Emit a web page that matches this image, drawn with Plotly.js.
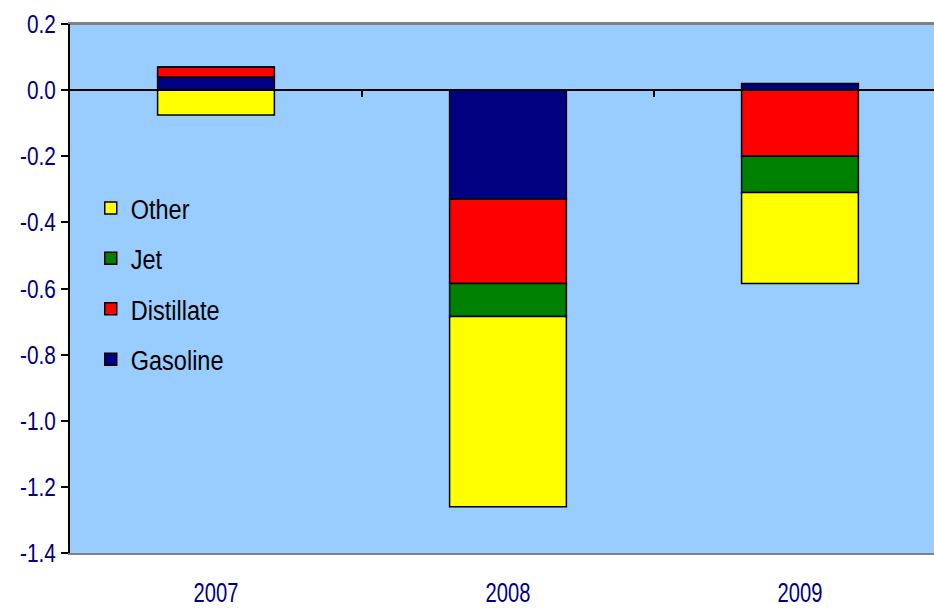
<!DOCTYPE html>
<html><head><meta charset="utf-8">
<script src="https://cdn.plot.ly/plotly-3.0.1.min.js"></script>
<style>html,body{margin:0;padding:0;background:#fff}</style>
</head><body>
<div id="chart" style="width:934px;height:608px"></div>
<script>
const years = ["2007", "2008", "2009"];
const gasoline = [0.04, -0.33, 0.02];
const distillate = [0.03, -0.255, -0.20];
const jet = [0.0, -0.10, -0.11];
const other = [-0.075, -0.575, -0.275];
const yTicks = [0.2, 0.0, -0.2, -0.4, -0.6, -0.8, -1.0, -1.2, -1.4];

const FONT = "Liberation Sans, Arial, sans-serif";
const series = [
  {name: "Gasoline", y: gasoline, color: "#000080", rank: 4},
  {name: "Distillate", y: distillate, color: "#FF0000", rank: 3},
  {name: "Jet", y: jet, color: "#008000", rank: 2},
  {name: "Other", y: other, color: "#FFFF00", rank: 1}
];
const traces = series.map(s => ({
  type: "bar", x: years, y: s.y, name: s.name, legendgroup: s.name, legendrank: s.rank,
  width: 0.4,
  marker: {color: s.color, line: {color: "#000", width: 1.5}}
}));
traces.push({type: "scatter", x: [0, 1, 2], y: [0, 0, 0], xaxis: "x2", mode: "none", showlegend: false, hoverinfo: "skip"});

const layout = {
  width: 934, height: 608,
  margin: {l: 70, r: 0, t: 24, b: 55},
  paper_bgcolor: "#fff", plot_bgcolor: "#99CCFF",
  barmode: "relative",
  showlegend: true,
  legend: {x: 0.024, y: 0.699, xanchor: "left", yanchor: "top", bgcolor: "rgba(0,0,0,0)",
    traceorder: "grouped", tracegroupgap: 11,
    font: {family: FONT, size: 28, color: "#000"}},
  xaxis: {type: "category", range: [-0.5, 2.459], showgrid: false, zeroline: false,
    ticks: "", showline: true, linecolor: "#808080", linewidth: 2, mirror: true,
    ticklabelstandoff: 13,
    tickfont: {family: FONT, size: 28, color: "#000080"}},
  xaxis2: {overlaying: "x", anchor: "free", position: 0.875, type: "linear", range: [-0.5, 2.459],
    tickvals: [0.5, 1.5], ticktext: ["", ""], ticks: "outside", ticklen: 6, tickwidth: 1.5, tickcolor: "#000",
    showline: false, showgrid: false, zeroline: false, showticklabels: false},
  yaxis: {range: [-1.4, 0.2], tickvals: yTicks, ticktext: yTicks.map(v => v.toFixed(1)),
    showgrid: false, zeroline: true, zerolinecolor: "#000", zerolinewidth: 2,
    showline: true, linecolor: "#000", linewidth: 2, ticks: "outside", ticklen: 7, tickwidth: 2, tickcolor: "#000",
    tickfont: {family: FONT, size: 26, color: "#000080"}},
  shapes: [
    {type: "line", xref: "paper", yref: "paper", x0: 0, x1: 1, y0: 1, y1: 1, line: {color: "#808080", width: 2}}
  ]
};

// horizontally condense text glyphs (the reference uses a narrow face)
function condense(gd, selector, f) {
  gd.querySelectorAll(selector).forEach(el => {
    const x = parseFloat(el.getAttribute("x")) || 0;
    const t = el.getAttribute("transform") || "";
    el.setAttribute("transform", t + " translate(" + x + ",0) scale(" + f + ",1) translate(" + (-x) + ",0)");
  });
}
Plotly.newPlot("chart", traces, layout, {staticPlot: true, displayModeBar: false}).then(gd => {
  condense(gd, ".legendtext", 0.84);
  condense(gd, ".xtick text", 0.72);
  condense(gd, ".ytick text", 0.8);
});
</script>
</body></html>
